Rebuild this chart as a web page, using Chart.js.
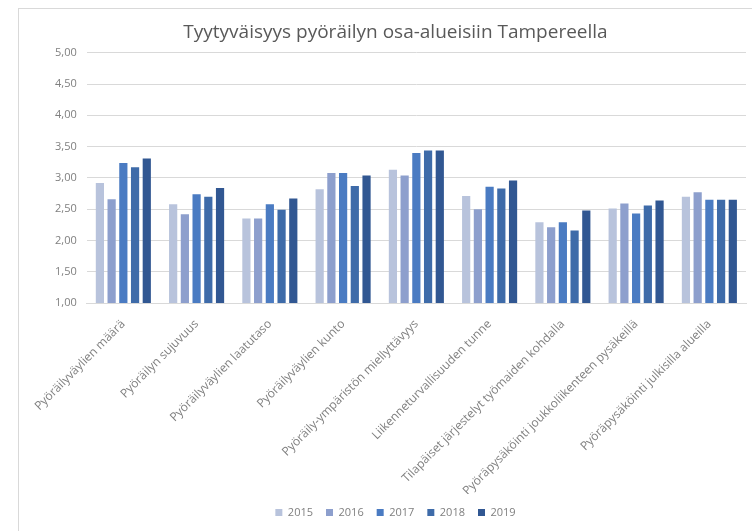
<!DOCTYPE html>
<html lang="fi">
<head>
<meta charset="utf-8">
<title>Tyytyväisyys pyöräilyn osa-alueisiin Tampereella</title>
<script src="https://cdn.jsdelivr.net/npm/chart.js@4/dist/chart.umd.min.js"></script>
<style>
    html, body { margin: 0; padding: 0; background: #fff; overflow: hidden; }
    #kehys {
        position: absolute;
        left: 18px;
        top: 8px;
        width: 752px;
        height: 522px;
        border: 1px solid #d9d9d9;
        background: #fff;
    }
    #grafiikka { display: block; }
</style>
</head>
<body>
<div id="kehys">
    <canvas id="grafiikka" width="752" height="522"></canvas>
</div>
<script>
const osaAlueet = [
    'Pyöräilyväylien määrä',
    'Pyöräilyn sujuvuus',
    'Pyöräilyväylien laatutaso',
    'Pyöräilyväylien kunto',
    'Pyöräily-ympäristön miellyttävyys',
    'Liikenneturvallisuuden tunne',
    'Tilapäiset järjestelyt työmaiden kohdalla',
    'Pyöräpysäköinti joukkoliikenteen pysäkeillä',
    'Pyöräpysäköinti julkisilla alueilla'
];

const vuodet = ['2015', '2016', '2017', '2018', '2019'];

const arvot2015 = [2.92, 2.58, 2.35, 2.82, 3.13, 2.71, 2.29, 2.51, 2.70];
const arvot2016 = [2.66, 2.42, 2.35, 3.08, 3.04, 2.50, 2.21, 2.59, 2.77];
const arvot2017 = [3.24, 2.74, 2.58, 3.08, 3.40, 2.86, 2.29, 2.43, 2.65];
const arvot2018 = [3.17, 2.70, 2.49, 2.87, 3.44, 2.83, 2.16, 2.56, 2.65];
const arvot2019 = [3.31, 2.84, 2.67, 3.04, 3.44, 2.96, 2.48, 2.64, 2.65];

const asteikko = [1.00, 1.50, 2.00, 2.50, 3.00, 3.50, 4.00, 4.50, 5.00];

const sarjat = [arvot2015, arvot2016, arvot2017, arvot2018, arvot2019];
const varit = ['#b8c3dc', '#8d9fcd', '#4a7bc2', '#3e6ba9', '#315792'];

const fontti = '"Open Sans", "DejaVu Sans", sans-serif';
const harmaa = '#7f7f7f';

const ctx = document.getElementById('grafiikka').getContext('2d');

new Chart(ctx, {
    type: 'bar',
    data: {
        labels: osaAlueet,
        datasets: vuodet.map((vuosi, i) => ({
            label: vuosi,
            data: sarjat[i],
            backgroundColor: varit[i],
            categoryPercentage: 0.8,
            barPercentage: 0.7
        }))
    },
    options: {
        responsive: false,
        animation: false,
        layout: { padding: { left: 26, right: 25, top: 6, bottom: 3 } },
        scales: {
            y: {
                min: 1,
                max: 5,
                afterBuildTicks: (akseli) => {
                    akseli.ticks = asteikko.map(v => ({ value: v }));
                },
                ticks: {
                    color: harmaa,
                    padding: 10,
                    font: { family: fontti, size: 11 },
                    callback: (v) => Number(v).toFixed(2).replace('.', ',')
                },
                grid: { color: '#d9d9d9', drawTicks: false },
                border: { display: false }
            },
            x: {
                ticks: {
                    color: harmaa,
                    minRotation: 45,
                    maxRotation: 45,
                    padding: 6,
                    font: { family: fontti, size: 12 }
                },
                grid: { display: false },
                border: { color: '#d9d9d9' },
                afterFit: (akseli) => { akseli.height = 191; }
            }
        },
        plugins: {
            title: {
                display: true,
                text: 'Tyytyväisyys pyöräilyn osa-alueisiin Tampereella',
                color: '#595959',
                font: { family: fontti, size: 19, weight: 'normal' },
                padding: { top: 6, bottom: 9 }
            },
            legend: {
                position: 'bottom',
                labels: {
                    color: harmaa,
                    boxWidth: 7,
                    boxHeight: 7,
                    padding: 13,
                    font: { family: fontti, size: 11 }
                }
            },
            tooltip: { enabled: false }
        }
    }
});
</script>
</body>
</html>
